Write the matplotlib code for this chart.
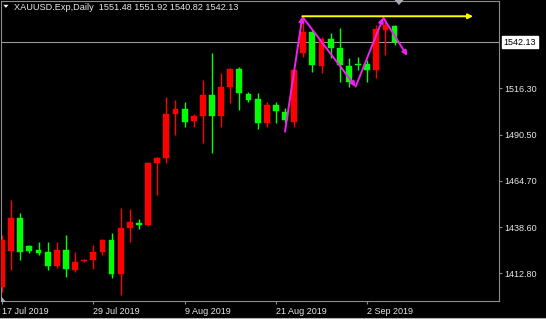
import matplotlib
matplotlib.use("Agg")
import matplotlib.pyplot as plt
from matplotlib.patches import Polygon
from matplotlib.lines import Line2D

# ---------------- data ----------------
symbol_title = "XAUUSD.Exp,Daily"
last_ohlc = [1551.48, 1551.92, 1540.82, 1542.13]
current_price = 1542.13

opens = [1405.1, 1425.3, 1443.9, 1428.2, 1425.8, 1424.6, 1417.0, 1425.7, 1414.6, 1419.5,
         1420.2, 1424.6, 1431.4, 1412.2, 1438.3, 1440.8, 1439.8, 1474.4, 1477.2, 1502.0,
         1504.8, 1498.2, 1501.0, 1512.6, 1500.9, 1517.3, 1527.2, 1513.0, 1510.2, 1496.8,
         1507.0, 1503.3, 1497.7, 1536.0, 1547.7, 1528.9, 1543.8, 1539.1, 1528.9, 1530.1,
         1529.8, 1526.6, 1549.0, 1551.48]
highs = [1434.2, 1453.8, 1446.6, 1428.6, 1430.5, 1430.5, 1430.1, 1434.2, 1424.9, 1421.0,
         1428.6, 1432.0, 1435.2, 1449.2, 1448.8, 1443.0, 1475.1, 1477.9, 1511.3, 1509.8,
         1508.9, 1502.0, 1521.0, 1536.0, 1524.8, 1527.7, 1528.5, 1514.5, 1513.6, 1508.9,
         1508.9, 1505.2, 1527.2, 1556.5, 1549.0, 1545.3, 1547.2, 1550.3, 1533.2, 1534.1,
         1532.2, 1551.8, 1555.6, 1551.92]
lows = [1402.3, 1414.6, 1420.2, 1424.2, 1423.0, 1414.6, 1415.8, 1410.9, 1413.7, 1419.1,
        1415.2, 1423.0, 1410.0, 1400.6, 1430.5, 1437.4, 1439.3, 1456.6, 1474.4, 1490.2,
        1494.9, 1494.9, 1485.6, 1480.0, 1494.5, 1508.0, 1504.2, 1508.5, 1493.4, 1494.9,
        1496.8, 1496.8, 1494.9, 1534.1, 1525.7, 1524.8, 1533.2, 1520.1, 1517.3, 1526.6,
        1519.7, 1522.0, 1535.0, 1540.82]
closes = [1431.4, 1443.9, 1424.9, 1425.3, 1424.0, 1417.0, 1425.8, 1415.2, 1418.9, 1420.4,
          1424.9, 1431.4, 1412.2, 1438.3, 1441.7, 1440.0, 1474.4, 1477.2, 1502.0, 1504.8,
          1497.7, 1501.0, 1512.6, 1500.9, 1517.3, 1527.2, 1513.9, 1509.8, 1496.8, 1507.0,
          1503.7, 1498.6, 1526.6, 1547.7, 1529.4, 1543.8, 1539.1, 1529.4, 1520.1, 1529.6,
          1526.6, 1549.6, 1551.8, 1542.13]

date_positions = [0, 10, 20, 30, 40]
date_labels = ["17 Jul 2019", "29 Jul 2019", "9 Aug 2019", "21 Aug 2019", "2 Sep 2019"]
price_ticks = [1516.30, 1490.50, 1464.70, 1438.60, 1412.80]

# drawn objects (bar index, price)
zigzag_x = [31.0, 32.9, 38.74, 41.76, 44.39]
zigzag_y = [1492.1, 1556.5, 1517.3, 1555.9, 1534.6]
hline_x = [32.9, 51.6]
hline_y = [1556.7, 1556.7]

# ---------------- figure ----------------
W, H = 546, 319
fig = plt.figure(figsize=(W / 100, H / 100), dpi=100, facecolor="black")
FONT = "Liberation Sans"
TXT = "#e8e8e8"
GRAY = "#8c8c8c"

ax = fig.add_axes([1 / W, 18 / H, 498 / W, 300 / H], facecolor="black")
ax.set_xlim(-0.11, 54.44)
ax.set_ylim(1397.28, 1565.25)

UP = "#ff0000"
DOWN = "#00ff00"
n = len(opens)
for i in range(n):
    o, h, l, c = opens[i], highs[i], lows[i], closes[i]
    col = UP if c >= o else DOWN
    ax.vlines(i, l, h, color=col, lw=1.0, zorder=2)
    bot = min(o, c)
    ht = max(abs(c - o), 0.6)
    ax.bar(i, ht, bottom=bot, width=0.64, color=col, edgecolor=col, lw=0.3, zorder=3)

# current price line
ax.axhline(current_price, color="#9a9a9a", lw=0.8, zorder=1)

# zigzag arrows (magenta)
MAG = "#f020f0"
for k in range(len(zigzag_x) - 1):
    ax.annotate("", xy=(zigzag_x[k + 1], zigzag_y[k + 1]), xytext=(zigzag_x[k], zigzag_y[k]),
                arrowprops=dict(arrowstyle="-|>", color=MAG, lw=1.4, mutation_scale=7,
                                shrinkA=0, shrinkB=0), zorder=5)
# yellow horizontal arrow
ax.annotate("", xy=(hline_x[1], hline_y[1]), xytext=(hline_x[0], hline_y[0]),
            arrowprops=dict(arrowstyle="-|>", color="#ffff00", lw=1.4, mutation_scale=7,
                            shrinkA=0, shrinkB=0), zorder=5)

# axes styling
for s in ax.spines.values():
    s.set_color(GRAY)
    s.set_linewidth(0.8)
ax.yaxis.tick_right()
ax.set_yticks(price_ticks)
ax.set_yticklabels([f"{v:.2f}" for v in price_ticks], fontfamily=FONT, fontsize=6.5, color=TXT)
ax.tick_params(axis="y", which="both", direction="out", length=2.5, width=0.8, color=GRAY, pad=1.5)
ax.set_xticks(date_positions)
ax.set_xticklabels(date_labels, fontfamily=FONT, fontsize=6.5, color=TXT, ha="left")
ax.tick_params(axis="x", direction="out", length=2, width=0.8, color=GRAY, pad=2.5)
for lab in ax.get_xticklabels():
    lab.set_horizontalalignment("left")
    lab.set_x(lab.get_position()[0])

# current price box
ax.annotate(f"{current_price:.2f}", xy=(1.0, current_price), xycoords=("axes fraction", "data"),
            xytext=(3.2, 0), textcoords="offset points", va="center", ha="left",
            fontfamily=FONT, fontsize=6.5, color="black",
            bbox=dict(boxstyle="square,pad=0.18", fc="white", ec="white"),
            annotation_clip=False, zorder=6)

# title
def fx(px):
    return px / W

def fy(py):
    return 1 - py / H

fig.text(fx(14), fy(7.5), symbol_title + "  " + " ".join(f"{v:.2f}" for v in last_ohlc),
         fontfamily=FONT, fontsize=6.6, color=TXT, va="center", ha="left")
fig.patches.append(Polygon([[fx(3.3), fy(4.8)], [fx(8.5), fy(4.8)], [fx(5.9), fy(7.8)]],
                           closed=True, transform=fig.transFigure, fc="white", ec="none"))
# chart shift marker top
fig.patches.append(Polygon([[fx(394.5), fy(0)], [fx(403.5), fy(0)], [fx(399), fy(5)]],
                           closed=True, transform=fig.transFigure, fc="#a8aab8", ec="none", zorder=10))
# bottom-left marker
fig.patches.append(Polygon([[fx(1), fy(296)], [fx(1), fy(301.5)], [fx(6), fy(301.5)]],
                           closed=True, transform=fig.transFigure, fc="#a8aab8", ec="none", zorder=10))
# bottom window line
fig.lines.append(Line2D([0, 1], [fy(318.3), fy(318.3)], transform=fig.transFigure,
                        color="#b0b0b0", lw=0.8))

fig.savefig("out.png", dpi=100, facecolor="black")
